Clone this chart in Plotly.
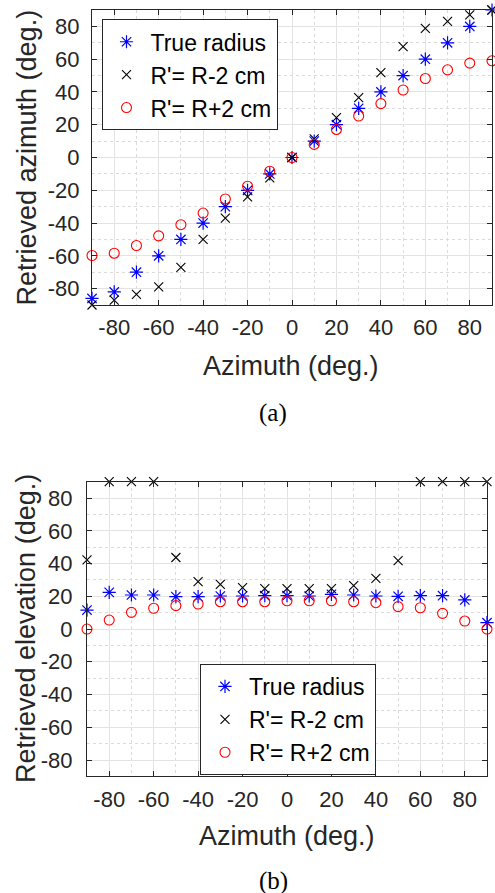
import plotly.graph_objects as go

# ---------------- data ----------------
azimuth = [-90, -80, -70, -60, -50, -40, -30, -20, -10, 0, 10, 20, 30, 40, 50, 60, 70, 80, 90]

# (a) retrieved azimuth
az_true = [-86, -82, -70, -60, -50, -40, -30, -20, -10, 0, 10, 20, 30, 40, 50, 60, 70, 80, 90]
az_minus = [-90, -87, -83.5, -79, -67, -50, -37, -24, -12.4, 0, 11.4, 24.3, 36.5, 51.8, 67.6, 78.8, 83, 87, 90]
az_plus = [-59.8, -58.4, -53.7, -47.8, -41, -33.9, -25.3, -17.5, -8.4, 0, 8, 17.1, 25.3, 32.9, 41.2, 48.2, 53.5, 57.6, 59]

# (b) retrieved elevation
el_true = [11.6, 22.4, 20.8, 20.8, 19.8, 19.8, 20.2, 20.2, 20.4, 20.4, 20.2, 21.2, 20.8, 20.2, 20, 20.4, 20.4, 17.8, 3.9]
el_minus = [42.2, 90, 90, 90, 43.7, 29, 27.3, 25.3, 24.7, 24.7, 24.7, 24.7, 26.5, 31, 41.8, 90, 90, 90, 90]
el_plus = [0, 5.5, 10.2, 12.7, 14.3, 15.3, 16.7, 16.7, 16.7, 17.3, 17.3, 17.3, 16.7, 16.1, 13.7, 13, 9.6, 4.9, 0]

tick_vals = [-80, -60, -40, -20, 0, 20, 40, 60, 80]
tick_text = ["-80", "-60", "-40", "-20", "0", "20", "40", "60", "80"]

series_names = ["True radius", "R'= R-2 cm", "R'= R+2 cm"]

# ---------------- figure ----------------
W, H = 495, 893
FONT = "Liberation Sans, Arial, sans-serif"
SERIF = "Liberation Serif, Times New Roman, serif"
AXC = "#262626"

fig = go.Figure()

styles = [
    dict(symbol="asterisk-open", size=11, color="blue", width=1.2),
    dict(symbol="x-thin-open", size=9, color="black", width=1.1),
    dict(symbol="circle-open", size=10, color="red", width=1.1),
]


def add_series(xa, ya, legend, ys):
    for name, y, st in zip(series_names, ys, styles):
        fig.add_trace(go.Scatter(
            x=azimuth, y=y, mode="markers", name=name,
            xaxis=xa, yaxis=ya, legend=legend, cliponaxis=False,
            marker=dict(symbol=st["symbol"], size=st["size"], color=st["color"],
                        line=dict(color=st["color"], width=st["width"])),
        ))


add_series("x", "y", "legend", [az_true, az_minus, az_plus])
add_series("x2", "y2", "legend2", [el_true, el_minus, el_plus])


def px_x(p):
    return p / W


def px_y(p):
    return 1 - p / H


def axis_common():
    return dict(
        range=[-90, 90], tickmode="array", tickvals=tick_vals, ticktext=tick_text,
        ticks="inside", ticklen=5, tickcolor=AXC, tickwidth=1,
        showline=True, linecolor=AXC, linewidth=1, mirror="ticks",
        showgrid=True, gridcolor="#e3e3e3", gridwidth=1,
        zeroline=False,
        tickfont=dict(family=FONT, size=22, color=AXC),
        minor=dict(tickmode="linear", tick0=0, dtick=10, showgrid=True,
                   gridcolor="#dadada", griddash="dot", gridwidth=1, ticklen=0),
    )


top = (10, 305)
bot = (481.7, 776.4)

legend_common = dict(xanchor="left", yanchor="top", bgcolor="white",
                     bordercolor=AXC, borderwidth=1, itemwidth=38,
                     font=dict(family=FONT, size=23, color="black"))

fig.update_layout(
    width=W, height=H, margin=dict(l=0, r=0, t=0, b=0),
    paper_bgcolor="white", plot_bgcolor="white",
    showlegend=True,
    xaxis=dict(domain=[px_x(92), px_x(492)], anchor="y", ticklabelstandoff=3, **axis_common()),
    yaxis=dict(domain=[px_y(top[1]), px_y(top[0])], anchor="x", ticklabelstandoff=7, **axis_common()),
    xaxis2=dict(domain=[px_x(87), px_x(487)], anchor="y2", ticklabelstandoff=3, **axis_common()),
    yaxis2=dict(domain=[px_y(bot[1]), px_y(bot[0])], anchor="x2", ticklabelstandoff=9, **axis_common()),
    legend=dict(x=px_x(101.5), y=px_y(19.3), **legend_common),
    legend2=dict(x=px_x(200), y=px_y(664), **legend_common),
)

annots = [
    dict(text="Retrieved azimuth (deg.)", x=px_x(26), y=px_y(157.5), textangle=-90,
         font=dict(family=FONT, size=27, color=AXC)),
    dict(text="Azimuth (deg.)", x=px_x(291), y=px_y(366),
         font=dict(family=FONT, size=27, color=AXC)),
    dict(text="(a)", x=px_x(273), y=px_y(413),
         font=dict(family=SERIF, size=25, color="black")),
    dict(text="Retrieved elevation (deg.)", x=px_x(26), y=px_y(629), textangle=-90,
         font=dict(family=FONT, size=27, color=AXC)),
    dict(text="Azimuth (deg.)", x=px_x(287), y=px_y(836),
         font=dict(family=FONT, size=27, color=AXC)),
    dict(text="(b)", x=px_x(273), y=px_y(881),
         font=dict(family=SERIF, size=25, color="black")),
]
for a in annots:
    fig.add_annotation(xref="paper", yref="paper", showarrow=False,
                       xanchor="center", yanchor="middle", **a)

fig.write_html("out.html")
